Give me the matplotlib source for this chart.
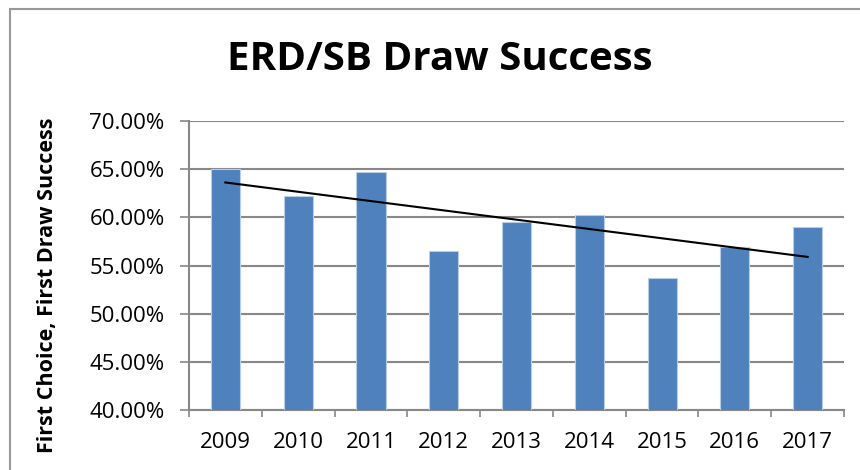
import numpy as np
import matplotlib
matplotlib.use("Agg")
import matplotlib.pyplot as plt
from matplotlib.ticker import FuncFormatter
from matplotlib.patches import Rectangle

years = ["2009", "2010", "2011", "2012", "2013", "2014", "2015", "2016", "2017"]
success = [65.0, 62.2, 64.7, 56.5, 59.5, 60.2, 53.75, 56.95, 59.0]
y_ticks = [40, 45, 50, 55, 60, 65, 70]
title = "ERD/SB Draw Success"
y_label = "First Choice, First Draw Success"

plt.rcParams['font.family'] = ['Open Sans', 'DejaVu Sans']

fig = plt.figure(figsize=(8.6, 4.7), dpi=100)
ax = fig.add_axes([189/860, 1-410/470, (844-189)/860, (410-121)/470])

x = np.arange(len(years))
ax.bar(x, success, width=0.4, color="#4F81BD", edgecolor="#B9CDE5", linewidth=0.8, zorder=3)

coef = np.polyfit(x, success, 1)
ax.plot(x[[0, -1]], np.polyval(coef, x[[0, -1]]), color="black", linewidth=1.5, zorder=4)

ax.set_ylim(40, 70)
ax.set_xlim(-0.5, len(years) - 0.5)
ax.set_yticks(y_ticks)
ax.yaxis.set_major_formatter(FuncFormatter(lambda v, p: f"{v:.2f}%"))
ax.yaxis.grid(True, color="#888888", linewidth=1.5, zorder=0)
ax.tick_params(axis='y', length=6.5, width=1.2, color="#888888", labelsize=16, pad=11)

ax.set_xticks(np.arange(-0.5, len(years)), labels=[""] * (len(years) + 1))
ax.set_xticks(x, labels=years, minor=True)
ax.tick_params(axis='x', which='major', length=5, width=1.2, color="#888888", direction='out')
ax.tick_params(axis='x', which='minor', length=0, labelsize=16, pad=16)

for s in ["top", "right"]:
    ax.spines[s].set_visible(False)
for s in ["left", "bottom"]:
    ax.spines[s].set_color("#888888")
    ax.spines[s].set_linewidth(1.5)

fig.text(48/860, 1-285/470, y_label, rotation=90, ha='center', va='center',
         fontsize=15.5, fontweight='bold')

fig.text(440/860, 1-60/470, title, ha='center', va='center', fontsize=29, fontweight='bold')

fig.patches.append(Rectangle((10/860, -0.1), 1.2, 1.1 - 9/470, transform=fig.transFigure,
                             fill=False, edgecolor="#999999", linewidth=1.5))

fig.savefig("out.png", dpi=100)
